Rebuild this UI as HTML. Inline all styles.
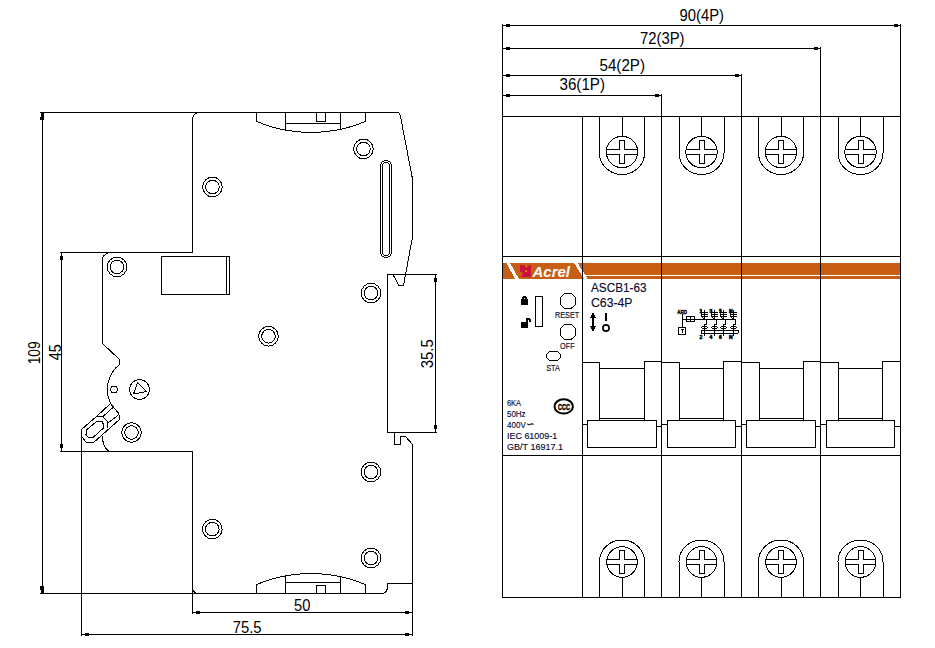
<!DOCTYPE html>
<html lang="en">
<head>
<meta charset="utf-8">
<title>ASCB1-63 outline dimensions</title>
<style>
html,body{margin:0;padding:0;background:#fff;}
body{width:935px;height:648px;overflow:hidden;}
svg{display:block;}
svg text{font-family:"Liberation Sans",sans-serif;}
</style>
</head>
<body>
<svg width="935" height="648" viewBox="0 0 935 648">
<rect width="935" height="648" fill="#fff"/>
<g fill="none" stroke="#000" stroke-width="1" shape-rendering="crispEdges">
<path d="M40 112.5H398"/>
<path d="M40 593.5H382"/>
<path d="M42.5 112V594"/>
<path d="M60 252.5H193"/>
<path d="M60 451.5H193"/>
<path d="M61.5 252V452"/>
<path d="M197.5 112.5 Q192.5 114 192.5 121 V252.5"/>
<path d="M192.5 451V614"/>
<path d="M192.5 587 Q193 593.5 198.5 593.5"/>
<path d="M192 612.5H413"/>
<path d="M81 634.5H413"/>
<path d="M81.5 429V636"/>
<path d="M397.5 112.5 Q399.5 112.5 400.5 116.5 L412.5 179 V237 L403.5 285.5 H399 L393 274.5"/>
<path d="M412.5 444V636"/>
<path d="M387 274.5H437"/>
<path d="M387 432.5H437"/>
<path d="M387.5 274V433"/>
<path d="M435.5 274V433"/>
<path d="M394.5 432.5 V444.5 H400.5 V436.5 H405.5 L412.5 444.5"/>
<path d="M412.5 583.5 H387.5 V586 Q387.5 593.5 381 593.5"/>
<path d="M256.5 112.5 V121.5 A140.5 140.5 0 0 0 365.5 121.5 V112.5"/>
<path d="M285.5 112.5 V130 M340.5 112.5 V130 M285.5 123.5 H340.5"/>
<path d="M316.5 112.5 V121.5 H325.5 V112.5"/>
<path d="M256.5 593.5 V584.5 A140.5 140.5 0 0 1 365.5 584.5 V593.5"/>
<path d="M285.5 593.5 V576 M340.5 593.5 V576 M285.5 582.5 H340.5"/>
<path d="M316.5 593.5 V585.5 H325.5 V593.5"/>
<path d="M380.5 166 A5.5 5.5 0 0 1 391.5 166 V252 A5.5 5.5 0 0 1 380.5 252 Z"/>
<path d="M382.5 166 A3.5 3.5 0 0 1 389.5 166 V252 A3.5 3.5 0 0 1 382.5 252 Z"/>
<path d="M161.5 256.5 H229.5 V294.5 H161.5 Z M226.5 256.5 V294.5"/>
<circle cx="212.5" cy="187" r="9.8"/>
<circle cx="212.5" cy="187" r="6.8"/>
<circle cx="363.5" cy="149" r="9.8"/>
<circle cx="363.5" cy="149" r="6.8"/>
<circle cx="117" cy="266.9" r="9.8"/>
<circle cx="117" cy="266.9" r="6.8"/>
<circle cx="371" cy="293.1" r="9.8"/>
<circle cx="371" cy="293.1" r="6.8"/>
<circle cx="268.5" cy="336.2" r="9.8"/>
<circle cx="268.5" cy="336.2" r="6.8"/>
<circle cx="131.5" cy="432.5" r="9.8"/>
<circle cx="131.5" cy="432.5" r="6.8"/>
<circle cx="371" cy="472" r="9.8"/>
<circle cx="371" cy="472" r="6.8"/>
<circle cx="212.3" cy="529.1" r="9.8"/>
<circle cx="212.3" cy="529.1" r="6.8"/>
<circle cx="371" cy="558" r="9.8"/>
<circle cx="371" cy="558" r="6.8"/>
<path d="M108 252.5 L103.5 256 Q102.5 257 102.5 259 V343.5 L119.5 359.5 V364.5 A32 32 0 0 0 110.5 403.5"/>
<path d="M102.5 436 Q102.5 447 109 451.5"/>
<circle cx="114" cy="389.5" r="3.3"/>
<circle cx="139.5" cy="389.5" r="10"/>
<path d="M137.5 382.5 L146.5 391.5 L133.5 394 Z"/>
<path d="M81.5 429.5 L96.5 416.5 L110.5 403.5 M119.5 414.5 V419.5 L93.5 442.5 H86.5 L81.5 436.5 V429.5"/>
<path d="M96.5 416.5 H102.5 L107.5 421.5 V428"/>
<path d="M86.5 430 L96.5 421.5 H102 L103.5 424.5 V428 L93.5 437 H88 L86 434.5 Z"/>
<path d="M103 416.5 L113 407.5 M108.5 422.5 L119 414.5 M110.5 403.5 L119.5 414.5"/>
<path d="M502 25.5H901"/>
<path d="M502 48.5H821"/>
<path d="M502 75.5H742"/>
<path d="M502 95.5H662"/>
<path d="M502.5 24V598"/>
<path d="M582.5 116V598"/>
<path d="M661.5 94V598"/>
<path d="M741.5 74V598"/>
<path d="M820.5 47V598"/>
<path d="M900.5 24V598"/>
<path d="M502 116.5H901"/>
<path d="M502 256.5H901"/>
<path d="M502 455.5H901"/>
<path d="M502 597.5H901"/>
<path d="M599.5 116.5 V153 A22.5 21.5 0 0 0 644.5 153 V116.5"/>
<circle cx="622" cy="152" r="15.7"/>
<path d="M622 116.5 V136"/>
<path d="M606.5 149.5 H619.5 V140.5 H624.5 V149.5 H637.5 M637.5 154.5 H624.5 V163.5 H619.5 V154.5 H606.5"/>
<path d="M599.5 597.5 V561.5 A22.5 21.5 0 0 1 644.5 561.5 V597.5"/>
<circle cx="622" cy="562" r="15.3"/>
<path d="M622 577 V597"/>
<path d="M607 559.5 H619.5 V550.5 H624.5 V559.5 H637 M637 564.5 H624.5 V573.5 H619.5 V564.5 H607"/>
<path d="M679.0 116.5 V153 A22.5 21.5 0 0 0 724.0 153 V116.5"/>
<circle cx="701.5" cy="152" r="15.7"/>
<path d="M701.5 116.5 V136"/>
<path d="M686.0 149.5 H699.0 V140.5 H704.0 V149.5 H717.0 M717.0 154.5 H704.0 V163.5 H699.0 V154.5 H686.0"/>
<path d="M679.0 597.5 V561.5 A22.5 21.5 0 0 1 724.0 561.5 V597.5"/>
<circle cx="701.5" cy="562" r="15.3"/>
<path d="M701.5 577 V597"/>
<path d="M686.5 559.5 H699.0 V550.5 H704.0 V559.5 H716.5 M716.5 564.5 H704.0 V573.5 H699.0 V564.5 H686.5"/>
<path d="M758.5 116.5 V153 A22.5 21.5 0 0 0 803.5 153 V116.5"/>
<circle cx="781" cy="152" r="15.7"/>
<path d="M781 116.5 V136"/>
<path d="M765.5 149.5 H778.5 V140.5 H783.5 V149.5 H796.5 M796.5 154.5 H783.5 V163.5 H778.5 V154.5 H765.5"/>
<path d="M758.5 597.5 V561.5 A22.5 21.5 0 0 1 803.5 561.5 V597.5"/>
<circle cx="781" cy="562" r="15.3"/>
<path d="M781 577 V597"/>
<path d="M766 559.5 H778.5 V550.5 H783.5 V559.5 H796 M796 564.5 H783.5 V573.5 H778.5 V564.5 H766"/>
<path d="M838.0 116.5 V153 A22.5 21.5 0 0 0 883.0 153 V116.5"/>
<circle cx="860.5" cy="152" r="15.7"/>
<path d="M860.5 116.5 V136"/>
<path d="M845.0 149.5 H858.0 V140.5 H863.0 V149.5 H876.0 M876.0 154.5 H863.0 V163.5 H858.0 V154.5 H845.0"/>
<path d="M838.0 597.5 V561.5 A22.5 21.5 0 0 1 883.0 561.5 V597.5"/>
<circle cx="860.5" cy="562" r="15.3"/>
<path d="M860.5 577 V597"/>
<path d="M845.5 559.5 H858.0 V550.5 H863.0 V559.5 H875.5 M875.5 564.5 H863.0 V573.5 H858.0 V564.5 H845.5"/>
<path d="M582.5 362.5 H599.5 V420.5 M599.5 368.5 H644.5 M599.5 418.5 H644.5 M644.5 420.5 V361.5 H661.5"/>
<path d="M587.5 420.5 H656.5 V447.5 H587.5 Z M582.5 424.5 H587.5 M656.5 426.5 H661.5"/>
<path d="M661.5 362.5 H679.5 V420.5 M679.5 368.5 H723.5 M679.5 418.5 H723.5 M723.5 420.5 V361.5 H741.5"/>
<path d="M667.5 420.5 H735.5 V447.5 H667.5 Z M661.5 424.5 H667.5 M735.5 426.5 H741.5"/>
<path d="M741.5 362.5 H759.5 V420.5 M759.5 368.5 H803.5 M759.5 418.5 H803.5 M803.5 420.5 V361.5 H820.5"/>
<path d="M746.5 420.5 H815.5 V447.5 H746.5 Z M741.5 424.5 H746.5 M815.5 426.5 H820.5"/>
<path d="M820.5 362.5 H838.5 V420.5 M838.5 368.5 H882.5 M838.5 418.5 H882.5 M882.5 420.5 V361.5 H900.5"/>
<path d="M826.5 420.5 H894.5 V447.5 H826.5 Z M820.5 424.5 H826.5 M894.5 426.5 H900.5"/>
<path d="M535.5 296.5 H542.5 V326.5 H535.5 Z"/>
<circle cx="568" cy="301" r="8"/>
<circle cx="568" cy="332" r="8"/>
<path d="M549.5 351.5 H557.5 L560.5 354.5 V357.5 L557.5 360.5 H549.5 L546.5 357.5 V354.5 Z"/>
</g>
<g fill="#000" stroke="none" shape-rendering="crispEdges">
<rect x="506" y="24" width="4" height="3"/>
<rect x="506" y="47" width="4" height="3"/>
<rect x="506" y="74" width="4" height="3"/>
<rect x="506" y="94" width="4" height="3"/>
<rect x="894" y="24" width="4" height="3"/>
<rect x="814" y="47" width="4" height="3"/>
<rect x="735" y="74" width="4" height="3"/>
<rect x="655" y="94" width="4" height="3"/>
<rect x="196" y="611" width="4" height="3"/>
<rect x="405" y="611" width="4" height="3"/>
<rect x="85" y="633" width="4" height="3"/>
<rect x="405" y="633" width="4" height="3"/>
<rect x="60" y="256" width="3" height="4"/>
<rect x="60" y="444" width="3" height="4"/>
<rect x="434" y="278" width="3" height="4"/>
<rect x="434" y="425" width="3" height="4"/>
<rect x="41" y="113" width="3" height="4"/><rect x="40" y="117" width="4" height="3"/>
<rect x="40" y="586" width="4" height="4"/><rect x="41" y="590" width="3" height="3"/>
</g>
<g shape-rendering="crispEdges" stroke="none">
<rect x="503" y="263" width="398" height="16" fill="#C85E14"/>
<rect x="583" y="275" width="318" height="1" fill="#fff"/>
<polygon points="506.5,263 510,263 519,279 515,279" fill="#fff"/>
<polygon points="574,263 577.7,263 587.5,279 584,279" fill="#fff"/>
<path d="M520 265 H524 L526.5 268.5 L529 265 H531 V277 H520.5 L523 273.5 L520 271.5 Z" fill="#C8143C"/>
<rect x="525" y="270" width="2" height="2" fill="#E07828"/>
</g>
<g stroke="#000" stroke-width="1" shape-rendering="crispEdges">
<path d="M502.5 262V280"/>
<path d="M582.5 262V280"/>
<path d="M661.5 262V280"/>
<path d="M741.5 262V280"/>
<path d="M820.5 262V280"/>
<path d="M900.5 262V280"/>
</g>
<g fill="#000" stroke="none" shape-rendering="crispEdges">
<rect x="521" y="299" width="7" height="6"/>
<path d="M522 299V297H523V296H526V297H527V299H525V298H524V299Z"/>
<rect x="521" y="322" width="7" height="6"/>
<path d="M526 322V318H530V319H531V322H529V320H528V322Z"/>
<rect x="592" y="313" width="2" height="18"/>
<path d="M593 311.5 L596 318 H590 Z M593 332.5 L596 326 H590 Z"/>
<rect x="605" y="313" width="2" height="8"/>
</g>
<g>
<circle cx="606" cy="328" r="3.1" fill="none" stroke="#000" stroke-width="1.7"/>
<ellipse cx="563.7" cy="406.4" rx="9.2" ry="7.1" fill="none" stroke="#000" stroke-width="2"/>
</g>
<g fill="none" stroke="#000" stroke-width="1" shape-rendering="crispEdges">
<path d="M682.5 314 V327 M682.5 319.5 H735"/>
<path d="M686.5 316.5 H694.5 V321.5 H686.5 Z M690.5 316.5 V321.5 M686.5 319 H694.5" fill="#fff"/>
<path d="M678.5 327.5 H685.5 V334.5 H678.5 Z"/>
<path d="M680.5 329.5 H684 M682.5 329.5 V332.5" stroke-width="1.5"/>
<path d="M704.5 309.5 V319.5 H706.5 V324 H704.5 V335.5"/>
<path d="M702.0 312.5 H707.5 M702.0 314.5 H707.5 M702.0 316.5 H707.5"/>
<path d="M701.0 309.5 V316 L704.5 319.5"/>
<ellipse cx="704.5" cy="327.5" rx="3" ry="1.2"/>
<path d="M714.5 309.5 V319.5 H716.5 V324 H714.5 V335.5"/>
<path d="M712.0 312.5 H717.5 M712.0 314.5 H717.5 M712.0 316.5 H717.5"/>
<path d="M711.0 309.5 V316 L714.5 319.5"/>
<ellipse cx="714.5" cy="327.5" rx="3" ry="1.2"/>
<path d="M723.5 309.5 V319.5 H725.5 V324 H723.5 V335.5"/>
<path d="M721.0 312.5 H726.5 M721.0 314.5 H726.5 M721.0 316.5 H726.5"/>
<path d="M720.0 309.5 V316 L723.5 319.5"/>
<ellipse cx="723.5" cy="327.5" rx="3" ry="1.2"/>
<path d="M733.5 309.5 V319.5 H735.5 V324 H733.5 V335.5"/>
<path d="M731.0 312.5 H736.5 M731.0 314.5 H736.5 M731.0 316.5 H736.5"/>
<path d="M730.0 309.5 V316 L733.5 319.5"/>
<ellipse cx="733.5" cy="327.5" rx="3" ry="1.2"/>
<path d="M702.5 330.5 H737 A1.5 1.5 0 0 1 737 333.5 H702.5 A1.5 1.5 0 0 1 702.5 330.5 Z"/>
</g>
<g>
<text x="559.5" y="89.5" font-size="16.5" fill="#000" text-anchor="start" textLength="45.5" lengthAdjust="spacingAndGlyphs">36(1P)</text>
<text x="599.5" y="70.7" font-size="16.5" fill="#000" text-anchor="start" textLength="45.5" lengthAdjust="spacingAndGlyphs">54(2P)</text>
<text x="640" y="43.7" font-size="16.5" fill="#000" text-anchor="start" textLength="44.5" lengthAdjust="spacingAndGlyphs">72(3P)</text>
<text x="679.5" y="21.2" font-size="16.5" fill="#000" text-anchor="start" textLength="44.5" lengthAdjust="spacingAndGlyphs">90(4P)</text>
<text x="294" y="611" font-size="16.5" fill="#000" text-anchor="start" textLength="16.3" lengthAdjust="spacingAndGlyphs">50</text>
<text x="232.7" y="633" font-size="16.5" fill="#000" text-anchor="start" textLength="28.8" lengthAdjust="spacingAndGlyphs">75.5</text>
<text transform="translate(40.3,364.3) rotate(-90)" font-size="16.5" textLength="23" lengthAdjust="spacingAndGlyphs">109</text>
<text transform="translate(60.6,360.3) rotate(-90)" font-size="16.5" textLength="16" lengthAdjust="spacingAndGlyphs">45</text>
<text transform="translate(433.4,368.3) rotate(-90)" font-size="16.5" textLength="29" lengthAdjust="spacingAndGlyphs">35.5</text>
<text x="591" y="291.8" font-size="13.4" fill="#0a0a30" stroke="#0a0a30" stroke-width="0.15" text-anchor="start" textLength="55.5" lengthAdjust="spacingAndGlyphs">ASCB1-63</text>
<text x="591" y="307" font-size="13.4" fill="#0a0a30" stroke="#0a0a30" stroke-width="0.15" text-anchor="start" textLength="41.5" lengthAdjust="spacingAndGlyphs">C63-4P</text>
<text x="555" y="318" font-size="9.6" fill="#0a0a30" stroke="#0a0a30" stroke-width="0.15" text-anchor="start" textLength="24.3" lengthAdjust="spacingAndGlyphs">RESET</text>
<text x="560" y="348.7" font-size="9.6" fill="#0a0a30" stroke="#0a0a30" stroke-width="0.15" text-anchor="start" textLength="14.7" lengthAdjust="spacingAndGlyphs">OFF</text>
<text x="546.2" y="370.8" font-size="9.6" fill="#0a0a30" stroke="#0a0a30" stroke-width="0.15" text-anchor="start" textLength="13.7" lengthAdjust="spacingAndGlyphs">STA</text>
<text x="507" y="406" font-size="9.6" fill="#0a0a30" stroke="#0a0a30" stroke-width="0.15" text-anchor="start" textLength="14" lengthAdjust="spacingAndGlyphs">6KA</text>
<text x="507" y="416.9" font-size="9.6" fill="#0a0a30" stroke="#0a0a30" stroke-width="0.15" text-anchor="start" textLength="18.6" lengthAdjust="spacingAndGlyphs">50Hz</text>
<text x="507" y="427.9" font-size="9.6" fill="#0a0a30" stroke="#0a0a30" stroke-width="0.15" text-anchor="start" textLength="18.8" lengthAdjust="spacingAndGlyphs">400V</text>
<text x="526.3" y="428.3" font-size="11.5" fill="#0a0a30" stroke="#0a0a30" stroke-width="0.15" text-anchor="start" textLength="8.6" lengthAdjust="spacingAndGlyphs">∽</text>
<text x="507" y="438.9" font-size="9.6" fill="#0a0a30" stroke="#0a0a30" stroke-width="0.15" text-anchor="start" textLength="50.2" lengthAdjust="spacingAndGlyphs">IEC 61009-1</text>
<text x="507" y="450" font-size="9.6" fill="#0a0a30" stroke="#0a0a30" stroke-width="0.15" text-anchor="start" textLength="56" lengthAdjust="spacingAndGlyphs">GB/T 16917.1</text>
<text x="532.5" y="277" font-size="15.5" font-weight="bold" font-style="italic" fill="#fff" textLength="37.5" lengthAdjust="spacingAndGlyphs">Acrel</text>
<text x="564" y="409.8" font-size="9.5" font-weight="bold" stroke="#000" stroke-width="0.5" text-anchor="middle" textLength="12" lengthAdjust="spacingAndGlyphs">CCC</text>
<text x="677.3" y="313.8" font-size="6" font-weight="bold" stroke="#000" stroke-width="0.4" textLength="9.7" lengthAdjust="spacingAndGlyphs">ARD</text>
<text x="699.5" y="313" font-size="5" font-weight="bold" stroke="#000" stroke-width="0.5">1</text>
<text x="699.5" y="339" font-size="5" font-weight="bold" stroke="#000" stroke-width="0.5">2</text>
<text x="709.5" y="313" font-size="5" font-weight="bold" stroke="#000" stroke-width="0.5">3</text>
<text x="709.5" y="339" font-size="5" font-weight="bold" stroke="#000" stroke-width="0.5">4</text>
<text x="719.0" y="313" font-size="5" font-weight="bold" stroke="#000" stroke-width="0.5">5</text>
<text x="719.0" y="339" font-size="5" font-weight="bold" stroke="#000" stroke-width="0.5">6</text>
<text x="729.0" y="313" font-size="5" font-weight="bold" stroke="#000" stroke-width="0.5">N</text>
<text x="729.0" y="339" font-size="5" font-weight="bold" stroke="#000" stroke-width="0.5">N</text>
</g>
</svg>
</body>
</html>
